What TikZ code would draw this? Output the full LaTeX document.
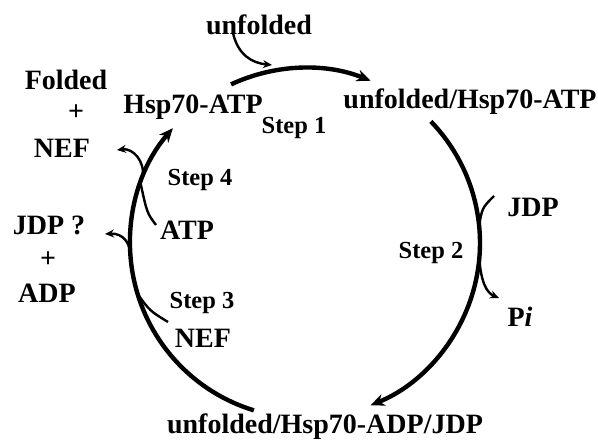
\documentclass[tikz,border=0pt]{standalone}
\usepackage{fontspec}
\setmainfont{Liberation Serif}
\usepackage{tikz}
\usetikzlibrary{arrows.meta,positioning,calc}

\begin{document}
\begin{tikzpicture}[
  x=1pt, y=1pt,
  lbl/.style={font=\bfseries\fontsize{28}{31}\selectfont, inner sep=0pt},
  steplbl/.style={font=\bfseries\fontsize{24.5}{27}\selectfont, inner sep=0pt},
  cyc/.style={line width=4.4pt, -{Stealth[length=14pt,width=12pt]}},
  side/.style={line width=2.4pt, -{Stealth[length=9pt,width=8pt]}},
  merge/.style={line width=2.4pt},
]
\useasboundingbox (-305,-200) rectangle (293,243);

% states
\node[lbl] (uHA)  at (165,141)  {unfolded/Hsp70-ATP};
\node[lbl] (uHAD) at (20,-184)  {unfolded/Hsp70-ADP/JDP};
\node[lbl] (HA)   at (-112,136) {Hsp70-ATP};
\node[lbl] (unf)  at (-46,218)  {unfolded};

% released / bound species
\node[lbl] (fold) at (-239,163) {Folded};
\node[lbl] (pl1)  at (-229,130) {+};
\node[lbl] (nef1) at (-243,95)  {NEF};
\node[lbl] (jdpq) at (-256,18)  {JDP ?};
\node[lbl] (pl2)  at (-257,-17) {+};
\node[lbl] (adp)  at (-258,-50) {ADP};
\node[lbl] (atp)  at (-118,13)  {ATP};
\node[lbl] (nef2) at (-102,-95) {NEF};
\node[lbl] (jdp)  at (228,36)   {JDP};
\node[lbl] (pi)   at (215,-74)  {P\textit{i}};

% steps
\node[steplbl] (s1) at (-11,115) {Step 1};
\node[steplbl] (s2) at (126,-10) {Step 2};
\node[steplbl] (s3) at (-103,-60) {Step 3};
\node[steplbl] (s4) at (-105,63) {Step 4};

% cycle
\draw[cyc] (115:175) arc[start angle=115, end angle=68, radius=175];
\draw[cyc] (44:175) arc[start angle=44, end angle=-68, radius=175];
\draw[cyc] (-107:175) arc[start angle=-107, end angle=-221, radius=175];

% side arrows
\coordinate (unfT) at (-72,210);
\draw[side] (unfT) .. controls (-67,188) and (-53,180) .. (-33,178);

\coordinate (jdpT) at (189,47);
\draw[merge] (jdpT) .. controls (177,35) .. (5:174.5);
\coordinate (piT) at (194,-55);
\draw[side] (-5:175) .. controls (176,-40) and (182,-50) .. (piT);

\coordinate (atpT) at (-149,18);
\draw[merge] (atpT) .. controls (-158,30) .. (160:175);
\coordinate (nefT) at (-188,93);
\draw[side] (158:175) .. controls (-160,82) and (-172,95) .. (nefT);

\coordinate (nef2T) at (-137,-79);
\draw[merge] (nef2T) .. controls (-155,-68) .. (197:175);
\coordinate (jdpqT) at (-200,9);
\draw[side] (185:175) .. controls (-174,0) and (-182,10) .. (jdpqT);

\end{tikzpicture}
\end{document}
